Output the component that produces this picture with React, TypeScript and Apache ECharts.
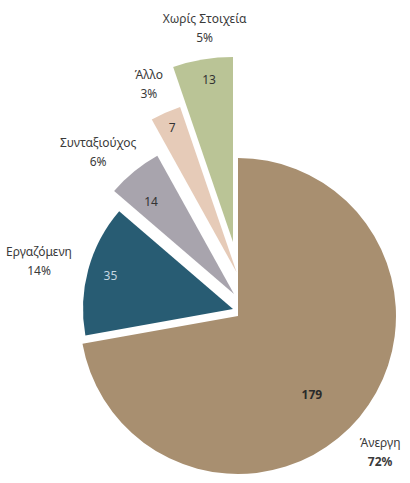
import React, { useEffect, useRef } from 'react';
import * as echarts from 'echarts';

// ---- data ----
const categories = ['Άνεργη', 'Εργαζόμενη', 'Συνταξιούχος', 'Άλλο', 'Χωρίς Στοιχεία'];
const counts = [179, 35, 14, 7, 13];

// ---- styles / layout (not data) ----
const colors = ['#A88F70', '#285C73', '#A8A4AD', '#E6CBB8', '#BAC496'];
const innerTextColors = ['#2a2a2a', '#C5D6E0', '#333333', '#333333', '#333333'];
const innerBold = [true, false, false, false, false];
const BASE_CENTER = [238, 316];
const sliceLayout = [
  { dx: 0, dy: 0, r: 158, inner: 105, innerOff: [-9, 9], outer: 194, outerOff: [-9, 10] },
  { dx: -5, dy: -7, r: 150, inner: 124, innerOff: [0, 0], outer: 196, outerOff: [-2, 4] },
  { dx: -4, dy: -22, r: 158, inner: 122, innerOff: [-4, 4], outer: 193, outerOff: [-12, 10] },
  { dx: -1.3, dy: -43.4, r: 175, inner: 156, innerOff: [0, 0], outer: 206, outerOff: [-3, 2] },
  { dx: -5, dy: -74, r: 185, inner: 161, innerOff: [3, -1], outer: 213, outerOff: [7, -1] },
];
const FONT = 'Noto Sans';

function buildSeries() {
  const series: any[] = [];
  categories.forEach((_, i) => {
    const L = sliceLayout[i];
    const center = [BASE_CENTER[0] + L.dx, BASE_CENTER[1] + L.dy];
    const common = {
      type: 'pie',
      center,
      startAngle: 90,
      clockwise: true,
      avoidLabelOverlap: false,
      selectedMode: false,
      silent: true,
      emphasis: { disabled: true },
      labelLine: { show: false },
      percentPrecision: 0,
    };
    // sector series (only slice i visible)
    series.push({
      ...common,
      radius: [0, L.r],
      label: { show: false },
      data: categories.map((name, j) => ({
        name,
        value: counts[j],
        itemStyle: { color: j === i ? colors[j] : 'rgba(0,0,0,0)', borderWidth: 0 },
      })),
    });
    // inner value label series
    series.push({
      ...common,
      radius: [L.inner - 1, L.inner + 1],
      data: categories.map((name, j) => ({
        name,
        value: counts[j],
        itemStyle: { color: 'rgba(0,0,0,0)', borderWidth: 0 },
        label:
          j === i
            ? {
                show: true,
                position: 'inside',
                formatter: '{c}',
                color: innerTextColors[j],
                fontFamily: FONT,
                fontSize: 12,
                fontWeight: innerBold[j] ? 'bold' : 'normal',
                offset: L.innerOff,
              }
            : { show: false },
      })),
    });
    // outer name + percent label series
    series.push({
      ...common,
      radius: [L.outer - 1, L.outer + 1],
      data: categories.map((name, j) => ({
        name,
        value: counts[j],
        itemStyle: { color: 'rgba(0,0,0,0)', borderWidth: 0 },
        label:
          j === i
            ? {
                show: true,
                position: 'inside',
                formatter: '{n|{b}}\n{p|{d}%}',
                offset: L.outerOff,
                rich: {
                  n: { fontFamily: FONT, fontSize: 12, color: '#3a3a3a', lineHeight: 19, align: 'center' },
                  p: {
                    fontFamily: FONT,
                    fontSize: 12,
                    color: '#3a3a3a',
                    lineHeight: 19,
                    align: 'center',
                    fontWeight: j === 0 ? 'bold' : 'normal',
                  },
                },
              }
            : { show: false },
      })),
    });
  });
  return series;
}

export default function App() {
  const ref = useRef<HTMLDivElement>(null);
  useEffect(() => {
    document.body.style.margin = '0';
    const chart = echarts.init(ref.current!, undefined, { renderer: 'svg' });
    chart.setOption({
      animation: false,
      backgroundColor: '#FFFFFF',
      series: buildSeries(),
    });
    return () => chart.dispose();
  }, []);
  return <div ref={ref} style={{ width: 410, height: 483 }} />;
}
